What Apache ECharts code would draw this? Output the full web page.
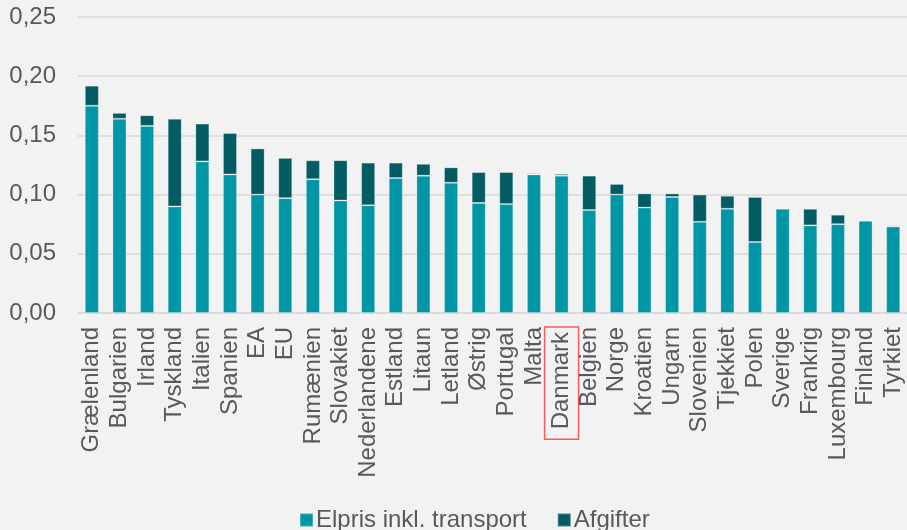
<!DOCTYPE html>
<html>
<head>
<meta charset="utf-8">
<script src="https://cdn.jsdelivr.net/npm/echarts@6/dist/echarts.min.js"></script>
<style>
  html, body { margin: 0; padding: 0; background: #f2f2f2; }
  #chart { width: 907px; height: 530px; }
</style>
</head>
<body>
<div id="chart"></div>
<script>
// data
const lande = ['Grælenland', 'Bulgarien', 'Irland', 'Tyskland', 'Italien', 'Spanien', 'EA', 'EU',
  'Rumænien', 'Slovakiet', 'Nederlandene', 'Estland', 'Litaun', 'Letland', 'Østrig', 'Portugal',
  'Malta', 'Danmark', 'Belgien', 'Norge', 'Kroatien', 'Ungarn', 'Slovenien', 'Tjekkiet', 'Polen',
  'Sverige', 'Frankrig', 'Luxembourg', 'Finland', 'Tyrkiet']
const elpris = [0.175, 0.164, 0.158, 0.090, 0.128, 0.117, 0.100, 0.097,
  0.113, 0.095, 0.091, 0.114, 0.116, 0.110, 0.093, 0.092,
  0.117, 0.116, 0.087, 0.100, 0.089, 0.098, 0.077, 0.088, 0.060,
  0.088, 0.074, 0.075, 0.078, 0.073]
const afgifter = [0.017, 0.005, 0.009, 0.074, 0.032, 0.035, 0.039, 0.034,
  0.016, 0.034, 0.036, 0.013, 0.010, 0.013, 0.026, 0.027,
  0.001, 0.0015, 0.029, 0.009, 0.012, 0.003, 0.023, 0.011, 0.038,
  0.0005, 0.014, 0.008, 0, 0.001]
const fremhaevet = 'Danmark'

const tekstFarve = '#595959'
const font = 'Liberation Sans, Arial, sans-serif'

const chart = echarts.init(document.getElementById('chart'), null, { renderer: 'canvas' })

chart.setOption({
  backgroundColor: '#f2f2f2',
  animation: false,
  textStyle: { fontFamily: font },
  grid: { left: 78, top: 17, width: 840, bottom: 217 },
  legend: {
    left: 294,
    top: 503,
    itemWidth: 13,
    itemHeight: 13,
    itemGap: 30,
    icon: 'rect',
    textStyle: { fontSize: 24, color: tekstFarve, fontFamily: font, padding: [0, 0, 0, -2] },
    data: ['Elpris inkl. transport', 'Afgifter']
  },
  xAxis: {
    type: 'category',
    data: lande,
    axisLine: { lineStyle: { color: '#d9d9d9', width: 1.5 } },
    axisTick: { show: false },
    axisLabel: {
      interval: 0,
      rotate: 90,
      margin: 14,
      fontSize: 24,
      color: tekstFarve,
      fontFamily: font,
      formatter: v => v === fremhaevet ? '{hl|' + v + '}' : v,
      rich: {
        hl: {
          fontSize: 24,
          color: tekstFarve,
          fontFamily: font,
          borderColor: '#ff5a5a',
          borderWidth: 1.5,
          padding: [5, 5, 5, 10]
        }
      }
    }
  },
  yAxis: {
    type: 'value',
    min: 0,
    max: 0.25,
    interval: 0.05,
    axisLine: { show: false },
    axisTick: { show: false },
    splitLine: { lineStyle: { color: '#d9d9d9', width: 1.5 } },
    axisLabel: {
      margin: 22,
      fontSize: 24,
      color: tekstFarve,
      fontFamily: font,
      formatter: v => v.toFixed(2).replace('.', ',')
    }
  },
  series: [
    {
      name: 'Elpris inkl. transport',
      type: 'bar',
      stack: 'pris',
      barWidth: 14,
      data: elpris,
      itemStyle: { color: '#0096a6', borderColor: 'rgba(255,255,255,0.25)', borderWidth: 1 }
    },
    {
      name: 'Afgifter',
      type: 'bar',
      stack: 'pris',
      barWidth: 14,
      data: afgifter,
      itemStyle: { color: '#035c63', borderColor: 'rgba(255,255,255,0.25)', borderWidth: 1 }
    }
  ]
})
</script>
</body>
</html>
